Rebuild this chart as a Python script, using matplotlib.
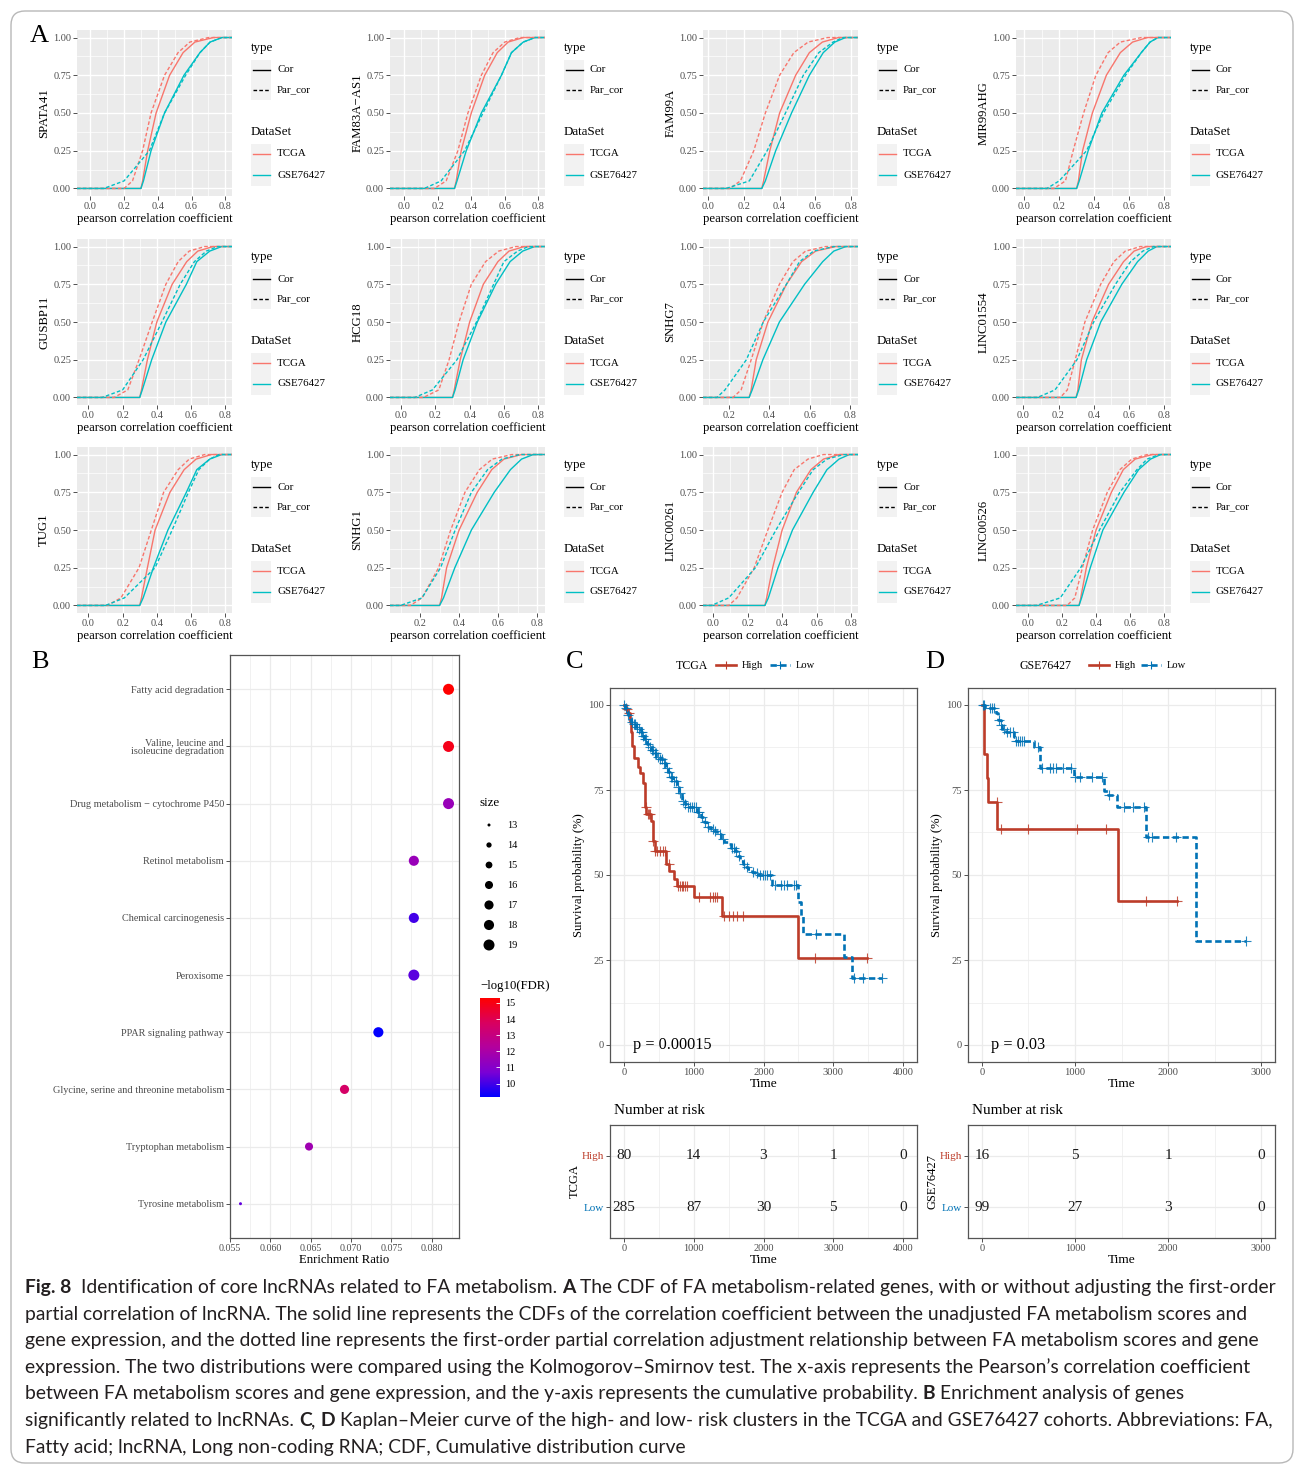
import numpy as np
import matplotlib
matplotlib.use("Agg")
import matplotlib.pyplot as plt
from matplotlib.colors import LinearSegmentedColormap, Normalize
from matplotlib.patches import FancyBboxPatch, Rectangle
from matplotlib.cm import ScalarMappable

W, H = 1295, 1466
SERIF = ["Liberation Serif", "DejaVu Serif"]
CAPFONT = ["Lato", "DejaVu Sans"]
plt.rcParams["font.family"] = SERIF

# ------------------------------------------------------------------ data A
cdf_prob = [0.0, 0.05, 0.25, 0.50, 0.75, 0.90, 0.97, 1.0]
genes = ["SPATA41", "FAM83A\u2212AS1", "FAM99A", "MIR99AHG",
         "GUSBP11", "HCG18", "SNHG7", "LINC01554",
         "TUG1", "SNHG1", "LINC00261", "LINC00526"]
x_left = [-0.079, -0.085, -0.03, -0.047, -0.067, -0.065, 0.071, -0.042,
          -0.067, 0.046, -0.059, -0.07]
x_right = 0.84
# x value reached at each cumulative probability in cdf_prob
tcga_cor = [
    [0.30, 0.31, 0.340, 0.390, 0.470, 0.550, 0.62, 0.730],
    [0.30, 0.31, 0.340, 0.400, 0.480, 0.555, 0.62, 0.710],
    [0.30, 0.31, 0.345, 0.400, 0.490, 0.567, 0.64, 0.730],
    [0.30, 0.31, 0.334, 0.390, 0.470, 0.550, 0.62, 0.705],
    [0.30, 0.31, 0.345, 0.400, 0.490, 0.575, 0.64, 0.730],
    [0.30, 0.31, 0.345, 0.400, 0.480, 0.565, 0.63, 0.720],
    [0.30, 0.31, 0.335, 0.393, 0.485, 0.560, 0.63, 0.730],
    [0.30, 0.31, 0.330, 0.390, 0.485, 0.570, 0.63, 0.700],
    [0.30, 0.31, 0.345, 0.390, 0.477, 0.560, 0.63, 0.720],
    [0.30, 0.31, 0.336, 0.400, 0.493, 0.567, 0.63, 0.720],
    [0.30, 0.31, 0.345, 0.400, 0.483, 0.567, 0.64, 0.730],
    [0.30, 0.31, 0.343, 0.400, 0.490, 0.560, 0.63, 0.730],
]
tcga_par = [
    [0.20, 0.25, 0.310, 0.360, 0.440, 0.520, 0.59, 0.700],
    [0.18, 0.25, 0.320, 0.380, 0.460, 0.530, 0.60, 0.690],
    [0.12, 0.18, 0.255, 0.320, 0.400, 0.480, 0.56, 0.670],
    [0.17, 0.236, 0.280, 0.340, 0.410, 0.480, 0.55, 0.670],
    [0.15, 0.23, 0.296, 0.373, 0.453, 0.525, 0.59, 0.680],
    [0.13, 0.22, 0.280, 0.338, 0.410, 0.493, 0.57, 0.670],
    [0.22, 0.26, 0.310, 0.370, 0.450, 0.517, 0.58, 0.680],
    [0.21, 0.25, 0.295, 0.350, 0.440, 0.515, 0.58, 0.665],
    [0.11, 0.19, 0.296, 0.368, 0.440, 0.525, 0.59, 0.680],
    [0.15, 0.21, 0.295, 0.357, 0.430, 0.504, 0.57, 0.670],
    [0.09, 0.138, 0.238, 0.317, 0.400, 0.470, 0.55, 0.640],
    [0.23, 0.275, 0.320, 0.380, 0.466, 0.540, 0.61, 0.700],
]
gse_cor = [
    [0.30, 0.315, 0.360, 0.440, 0.555, 0.650, 0.71, 0.780],
    [0.30, 0.315, 0.370, 0.460, 0.580, 0.640, 0.71, 0.780],
    [0.30, 0.320, 0.378, 0.467, 0.567, 0.645, 0.71, 0.770],
    [0.30, 0.315, 0.366, 0.444, 0.570, 0.670, 0.72, 0.765],
    [0.30, 0.315, 0.370, 0.453, 0.573, 0.634, 0.71, 0.780],
    [0.30, 0.315, 0.362, 0.445, 0.552, 0.636, 0.71, 0.780],
    [0.30, 0.315, 0.368, 0.450, 0.575, 0.665, 0.72, 0.780],
    [0.30, 0.315, 0.360, 0.440, 0.560, 0.650, 0.71, 0.760],
    [0.30, 0.320, 0.380, 0.465, 0.573, 0.634, 0.71, 0.780],
    [0.30, 0.320, 0.378, 0.463, 0.580, 0.663, 0.72, 0.780],
    [0.30, 0.320, 0.376, 0.460, 0.580, 0.660, 0.73, 0.790],
    [0.30, 0.315, 0.366, 0.440, 0.564, 0.650, 0.72, 0.780],
]
gse_par = [
    [0.08, 0.20, 0.350, 0.440, 0.565, 0.650, 0.71, 0.780],
    [0.12, 0.22, 0.360, 0.470, 0.580, 0.640, 0.71, 0.780],
    [0.10, 0.23, 0.330, 0.433, 0.533, 0.620, 0.70, 0.755],
    [0.13, 0.20, 0.357, 0.454, 0.580, 0.670, 0.72, 0.765],
    [0.08, 0.20, 0.320, 0.430, 0.537, 0.620, 0.69, 0.755],
    [0.08, 0.183, 0.326, 0.440, 0.540, 0.600, 0.68, 0.743],
    [0.14, 0.18, 0.286, 0.370, 0.485, 0.550, 0.62, 0.720],
    [0.08, 0.18, 0.305, 0.400, 0.524, 0.610, 0.68, 0.740],
    [0.10, 0.21, 0.390, 0.490, 0.585, 0.646, 0.71, 0.765],
    [0.10, 0.21, 0.305, 0.380, 0.463, 0.546, 0.62, 0.710],
    [-0.01, 0.09, 0.245, 0.364, 0.495, 0.580, 0.66, 0.757],
    [0.05, 0.19, 0.310, 0.420, 0.540, 0.640, 0.70, 0.770],
]

# ------------------------------------------------------------------ data B
kegg_terms = ["Fatty acid degradation", "Valine, leucine and\nisoleucine degradation",
              "Drug metabolism \u2212 cytochrome P450", "Retinol metabolism",
              "Chemical carcinogenesis", "Peroxisome", "PPAR signaling pathway",
              "Glycine, serine and threonine metabolism", "Tryptophan metabolism",
              "Tyrosine metabolism"]
kegg_ratio = [0.0821, 0.0821, 0.0821, 0.0778, 0.0778, 0.0778, 0.0734, 0.0692, 0.0648, 0.0563]
kegg_size = [19, 19, 19, 18, 18, 19, 18, 17, 16, 13]
kegg_logfdr = [15.3, 14.9, 11.5, 11.5, 10.0, 10.3, 9.2, 13.6, 11.7, 10.4]
size_levels = [13, 14, 15, 16, 17, 18, 19]
fdr_ticks = [10, 11, 12, 13, 14, 15]

# ------------------------------------------------------------------ data C / D
# (time, survival %) at each step
tcga_high = [(0, 100), (20, 98.7), (50, 97.5), (80, 95), (95, 92), (110, 88), (150, 84.3),
             (195, 81.8), (230, 80.1), (280, 77), (295, 72), (305, 70.0), (320, 68),
             (390, 66.0), (415, 60.1), (440, 57.1), (600, 53.2), (650, 51.2), (720, 48.7),
             (760, 46.9), (1000, 43.5), (1400, 38.0), (2490, 25.5)]
tcga_high_end = 3490
tcga_high_censor = [40, 70, 310, 340, 360, 380, 420, 450, 480, 520, 560, 590, 640, 770, 800,
                    830, 850, 880, 900, 1080, 1230, 1270, 1310, 1340, 1430, 1500, 1560, 1620,
                    1700, 2740, 3490]
tcga_low = [(0, 100), (20, 99), (40, 98), (60, 97), (80, 96), (100, 95), (130, 94.3),
            (170, 93.5), (210, 92.8), (245, 92), (270, 91), (290, 90), (330, 88.5),
            (360, 87.5), (390, 86.8), (430, 85.8), (465, 84.8), (510, 84), (560, 83),
            (600, 81.5), (630, 80.2), (660, 78.9), (700, 77.5), (755, 75.9), (790, 74),
            (830, 71.9), (870, 70.8), (900, 70.0), (1050, 68.5), (1100, 67), (1150, 65.5),
            (1195, 64.0), (1250, 63.5), (1290, 63), (1340, 62), (1390, 60.5), (1440, 59.8),
            (1490, 59), (1540, 58), (1585, 57), (1620, 55.5), (1660, 54), (1700, 53.3),
            (1730, 52.5), (1780, 51.8), (1830, 51), (1880, 50.5), (1925, 50), (2120, 47),
            (2490, 42), (2540, 38), (2560, 32.6), (3150, 26), (3270, 19.6)]
tcga_low_end = 3700
tcga_low_censor = [0, 30, 60, 110, 140, 160, 190, 220, 250, 260, 280, 300, 320, 340, 370, 400,
                   420, 440, 460, 490, 520, 540, 570, 590, 620, 640, 670, 690, 720, 740, 780,
                   810, 850, 880, 920, 950, 980, 1010, 1030, 1060, 1080, 1120, 1160, 1210,
                   1280, 1300, 1380, 1420, 1550, 1580, 1600, 1650, 1720, 1760, 1850, 1900,
                   1950, 1990, 2020, 2050, 2100, 2170, 2250, 2290, 2330, 2430, 2470, 2750,
                   3300, 3430, 3700]
gse_high = [(0, 100), (20, 85.7), (50, 78.6), (70, 71.4), (165, 63.5), (1460, 42.3)]
gse_high_end = 2100
gse_high_censor = [160, 200, 500, 1020, 1330, 1760, 2100]
gse_low = [(0, 100), (30, 99), (150, 97.5), (175, 95.5), (200, 94), (220, 93), (260, 92),
           (340, 90.5), (365, 89.3), (555, 87.6), (620, 81.6), (993, 78.9), (1314, 74.6),
           (1350, 73.5), (1450, 70), (1760, 61.3), (2300, 30.6)]
gse_low_end = 2840
gse_low_censor = [10, 20, 90, 110, 130, 180, 200, 240, 270, 300, 330, 370, 390, 410, 430, 450,
                  600, 650, 730, 760, 800, 870, 960, 1000, 1050, 1180, 1290, 1370, 1530, 1620,
                  1740, 1780, 1830, 2090, 2840]
tcga_risk_times = [0, 1000, 2000, 3000, 4000]
tcga_risk_high = [80, 14, 3, 1, 0]
tcga_risk_low = [285, 87, 30, 5, 0]
gse_risk_times = [0, 1000, 2000, 3000]
gse_risk_high = [16, 5, 1, 0]
gse_risk_low = [99, 27, 3, 0]

caption_lines = [
    [("Fig. 8", True), ("  Identification of core lncRNAs related to FA metabolism. ", False),
     ("A", True), (" The CDF of FA metabolism-related genes, with or without adjusting the first-order", False)],
    [("partial correlation of lncRNA. The solid line represents the CDFs of the correlation coefficient between the unadjusted FA metabolism scores and", False)],
    [("gene expression, and the dotted line represents the first-order partial correlation adjustment relationship between FA metabolism scores and gene", False)],
    [("expression. The two distributions were compared using the Kolmogorov\u2013Smirnov test. The x-axis represents the Pearson\u2019s correlation coefficient", False)],
    [("between FA metabolism scores and gene expression, and the y-axis represents the cumulative probability. ", False),
     ("B", True), (" Enrichment analysis of genes", False)],
    [("significantly related to lncRNAs. ", False), ("C", True), (", ", False), ("D", True),
     (" Kaplan\u2013Meier curve of the high- and low- risk clusters in the TCGA and GSE76427 cohorts. Abbreviations: FA,", False)],
    [("Fatty acid; lncRNA, Long non-coding RNA; CDF, Cumulative distribution curve", False)],
]

# ------------------------------------------------------------------ styles
TCGA_C = "#F8766D"
GSE_C = "#00BFC4"
HIGH_C = "#BC3C29"
LOW_C = "#0072B5"
DASH_A = (0, (2.6, 1.6))
DASH_KM = (0, (2.4, 1.3))

fig = plt.figure(figsize=(W / 100, H / 100), dpi=100)
fig.patch.set_facecolor("white")


def ax_px(x0, y0, x1, y1, **kw):
    return fig.add_axes([x0 / W, 1 - y1 / H, (x1 - x0) / W, (y1 - y0) / H], **kw)


ov = fig.add_axes([0, 0, 1, 1], zorder=20)
ov.set_xlim(0, W)
ov.set_ylim(H, 0)
ov.axis("off")
ov.patch.set_alpha(0)

# ------------------------------------------------------------------ panel A
col_x = [77, 390, 703, 1016]
row_y = [30, 239, 447]
PW, PH = 155, 166
for i, g in enumerate(genes):
    r, c = divmod(i, 4)
    x0, y0 = col_x[c], row_y[r]
    ax = ax_px(x0, y0, x0 + PW, y0 + PH)
    ax.set_facecolor("#EBEBEB")
    for s in ax.spines.values():
        s.set_visible(False)
    xl = x_left[i]
    ax.set_xlim(xl, x_right)
    ax.set_ylim(-0.05, 1.05)
    ax.set_xticks([t for t in [0.0, 0.2, 0.4, 0.6, 0.8] if t >= xl])
    ax.set_xticks([t for t in [-0.1, 0.1, 0.3, 0.5, 0.7] if t >= xl], minor=True)
    ax.set_yticks([0, 0.25, 0.5, 0.75, 1.0])
    ax.set_yticks([0.125, 0.375, 0.625, 0.875], minor=True)
    ax.set_yticklabels(["0.00", "0.25", "0.50", "0.75", "1.00"])
    ax.set_xticklabels(["%.1f" % t for t in ax.get_xticks()])
    ax.grid(which="major", color="white", lw=1.0)
    ax.grid(which="minor", color="white", lw=0.5)
    ax.set_axisbelow(True)
    ax.tick_params(which="major", labelsize=7.4, length=2.8, width=0.6, color="#333333",
                   labelcolor="#4D4D4D", pad=1.5)
    ax.tick_params(which="minor", length=0)
    for data, col, ls in [(tcga_cor, TCGA_C, "-"), (gse_cor, GSE_C, "-"),
                          (tcga_par, TCGA_C, DASH_A), (gse_par, GSE_C, DASH_A)]:
        xs = [xl] + list(data[i]) + [x_right]
        ys = [0.0] + list(cdf_prob) + [1.0]
        ax.plot(xs, ys, color=col, lw=1.0, ls=ls)
    ax.set_ylabel(g, fontsize=9.2, labelpad=2)
    ax.set_xlabel("pearson correlation coefficient", fontsize=9.2, labelpad=1.5)

    # legend
    lx = x0 + PW + 19
    ov.text(lx, y0 + 18, "type", fontsize=9.4, va="center", ha="left")
    for k, (lab, ls) in enumerate([("Cor", "-"), ("Par_cor", DASH_A)]):
        yc = y0 + 40 + 20 * k
        ov.add_patch(Rectangle((lx, yc - 10), 20, 20, fc="#F2F2F2", ec="none"))
        ov.plot([lx + 2, lx + 19], [yc, yc], color="black", lw=1.0, ls=ls)
        ov.text(lx + 26, yc, lab, fontsize=7.8, va="center", ha="left")
    ov.text(lx, y0 + 102, "DataSet", fontsize=9.4, va="center", ha="left")
    for k, (lab, col) in enumerate([("TCGA", TCGA_C), ("GSE76427", GSE_C)]):
        yc = y0 + 124 + 21 * k
        ov.add_patch(Rectangle((lx, yc - 10.5), 20, 21, fc="#F2F2F2", ec="none"))
        ov.plot([lx + 2, lx + 19], [yc, yc], color=col, lw=1.0)
        ov.text(lx + 26, yc, lab, fontsize=7.8, va="center", ha="left")

# ------------------------------------------------------------------ panel B
cmap = LinearSegmentedColormap.from_list(
    "bluered", ["#0000FF", "#7B00D4", "#B2009E", "#D9005F", "#FF0000"])
norm = Normalize(vmin=9.17, vmax=15.31)


def dot_s(v):
    d_px = np.sqrt(9 + (np.asarray(v, float) - 13) * 18.67)
    return (d_px * 0.72) ** 2


axb = ax_px(230, 655, 459, 1238)
idx = np.arange(len(kegg_terms))
axb.scatter(kegg_ratio, idx, s=dot_s(kegg_size), c=kegg_logfdr, cmap=cmap, norm=norm,
            edgecolors="none", zorder=3)
axb.set_ylim(len(kegg_terms) - 0.4, -0.6)
axb.set_xlim(0.0550, 0.0834)
axb.set_yticks(idx)
axb.set_yticklabels(kegg_terms, fontsize=7.4, color="#4D4D4D", linespacing=0.95)
xt = [0.055, 0.060, 0.065, 0.070, 0.075, 0.080]
axb.set_xticks(xt)
axb.set_xticklabels(["%.3f" % t for t in xt], fontsize=7.2, color="#4D4D4D")
axb.set_xticks([0.0575, 0.0625, 0.0675, 0.0725, 0.0775, 0.0825], minor=True)
axb.grid(which="major", color="#EBEBEB", lw=0.9)
axb.grid(which="minor", color="#EBEBEB", lw=0.5)
axb.set_axisbelow(True)
axb.tick_params(which="major", length=2.8, width=0.6, color="#333333", pad=1.5)
axb.tick_params(which="minor", length=0)
for s in axb.spines.values():
    s.set_color("#555555")
    s.set_linewidth(0.9)
axb.set_xlabel("Enrichment Ratio", fontsize=9.2, labelpad=1)

ov.text(480, 803, "size", fontsize=9.4, va="center", ha="left")
for k, v in enumerate(size_levels):
    yc = 825 + 20 * k
    ov.scatter([489], [yc], s=dot_s(v), color="black", edgecolors="none")
    ov.text(507, yc, str(v), fontsize=7.4, va="center", ha="left")
ov.text(480, 986, "\u2212log10(FDR)", fontsize=9.2, va="center", ha="left")
cax = ax_px(480, 998, 500, 1097)
cb = fig.colorbar(ScalarMappable(norm=norm, cmap=cmap), cax=cax)
cb.set_ticks(fdr_ticks)
cb.outline.set_visible(False)
cax.tick_params(labelsize=7.4, length=3, color="white", width=0.6, direction="in", pad=4)

# ------------------------------------------------------------------ panels C, D


def surv_at(pairs, t):
    s = pairs[0][1]
    for tt, ss in pairs:
        if tt <= t:
            s = ss
    return s


def km_panel(box, high, high_end, high_c, low, low_end, low_c, xlim, xticks, pval):
    ax = ax_px(*box)
    for pairs, end, cens, col, ls, z in [(high, high_end, high_c, HIGH_C, "-", 3),
                                          (low, low_end, low_c, LOW_C, DASH_KM, 4)]:
        ts = [p[0] for p in pairs] + [end]
        ss = [p[1] for p in pairs] + [pairs[-1][1]]
        ax.step(ts, ss, where="post", color=col, lw=1.9, ls=ls, zorder=z)
        ax.plot(cens, [surv_at(pairs, t) for t in cens], ls="none", marker="+",
                ms=6.5, mew=0.8, color=col, zorder=z, alpha=0.85)
    ax.set_xlim(*xlim)
    ax.set_ylim(-5, 105)
    ax.set_xticks(xticks)
    ax.set_xticks([t + 500 for t in xticks[:-1]], minor=True)
    ax.set_yticks([0, 25, 50, 75, 100])
    ax.set_yticks([12.5, 37.5, 62.5, 87.5], minor=True)
    ax.grid(which="major", color="#EBEBEB", lw=0.9)
    ax.grid(which="minor", color="#EBEBEB", lw=0.5)
    ax.set_axisbelow(True)
    ax.tick_params(which="major", labelsize=7.6, length=2.8, width=0.6, color="#333333",
                   labelcolor="#4D4D4D", pad=1.5)
    ax.tick_params(which="minor", length=0)
    for s in ax.spines.values():
        s.set_color("#555555")
        s.set_linewidth(0.9)
    ax.set_ylabel("Survival probability (%)", fontsize=9.1, labelpad=2)
    ax.set_xlabel("Time", fontsize=9.6, labelpad=1)
    ax.text(0.075, 0.046, pval, transform=ax.transAxes, fontsize=11.7, va="center", ha="left")
    return ax


km_panel((610, 688, 917, 1062), tcga_high, tcga_high_end, tcga_high_censor,
         tcga_low, tcga_low_end, tcga_low_censor, (-200, 4200),
         [0, 1000, 2000, 3000, 4000], "p = 0.00015")
km_panel((968, 688, 1275, 1062), gse_high, gse_high_end, gse_high_censor,
         gse_low, gse_low_end, gse_low_censor, (-150, 3150),
         [0, 1000, 2000, 3000], "p = 0.03")


def km_legend(xt, lab, xr, xb):
    ov.text(xt, 666, lab, fontsize=8.6, va="center", ha="center")
    ov.plot([xr, xr + 20], [665, 665], color=HIGH_C, lw=1.9)
    ov.plot([xr + 10], [665], marker="+", ms=6, mew=0.8, color=HIGH_C)
    ov.text(xr + 26, 666, "High", fontsize=7.6, va="center", ha="left")
    ov.plot([xb, xb + 20], [665, 665], color=LOW_C, lw=1.9, ls=DASH_KM)
    ov.plot([xb + 10], [665], marker="+", ms=6, mew=0.8, color=LOW_C)
    ov.text(xb + 26, 666, "Low", fontsize=7.6, va="center", ha="left")


km_legend(692, "TCGA", 716, 770)
km_legend(1045, "GSE76427", 1089, 1141)


def risk_table(box, times, high, low, xlim, xticks, ylab, title_x):
    ax = ax_px(*box)
    ax.set_xlim(*xlim)
    ax.set_ylim(-0.6, 1.6)
    for t, n in zip(times, high):
        ax.text(t, 1, str(n), fontsize=11, ha="center", va="center", color="#1A1A1A")
    for t, n in zip(times, low):
        ax.text(t, 0, str(n), fontsize=11, ha="center", va="center", color="#1A1A1A")
    ax.set_xticks(xticks)
    ax.set_xticks([t + 500 for t in xticks[:-1]], minor=True)
    ax.set_yticks([1, 0])
    ax.set_yticklabels(["High", "Low"])
    ax.get_yticklabels()[0].set_color(HIGH_C)
    ax.get_yticklabels()[1].set_color(LOW_C)
    ax.grid(which="major", color="#EBEBEB", lw=0.9)
    ax.grid(which="minor", axis="x", color="#EBEBEB", lw=0.5)
    ax.set_axisbelow(True)
    ax.tick_params(which="major", labelsize=7.4, length=2.8, width=0.6, color="#333333",
                   pad=1.5)
    ax.tick_params(axis="x", labelcolor="#4D4D4D")
    ax.tick_params(axis="y", labelsize=8)
    ax.tick_params(which="minor", length=0)
    for s in ax.spines.values():
        s.set_color("#555555")
        s.set_linewidth(0.9)
    ax.set_xlabel("Time", fontsize=9.6, labelpad=1)
    ax.set_ylabel(ylab, fontsize=9, labelpad=1)
    ov.text(title_x, 1110, "Number at risk", fontsize=10.9, va="center", ha="left")


risk_table((610, 1125, 917, 1238), tcga_risk_times, tcga_risk_high, tcga_risk_low,
           (-200, 4200), [0, 1000, 2000, 3000, 4000], "TCGA", 614)
risk_table((968, 1125, 1275, 1238), gse_risk_times, gse_risk_high, gse_risk_low,
           (-150, 3150), [0, 1000, 2000, 3000], "GSE76427", 972)

# panel letters
for lab, x, y in [("A", 30, 36), ("B", 31, 662), ("C", 566, 662), ("D", 925, 662)]:
    ov.text(x, y, lab, fontsize=19, va="center", ha="left")

# ------------------------------------------------------------------ caption
renderer = fig.canvas.get_renderer()


def text_w(s, bold, size):
    t = fig.text(0, 0, s, fontsize=size, family=CAPFONT,
                 fontweight="bold" if bold else "normal")
    w = t.get_window_extent(renderer).width
    t.remove()
    return w


def line_w(runs, size):
    sw = text_w("a a", False, size) - text_w("aa", False, size)
    tot = 0
    for txt, b in runs:
        st = txt.strip()
        nl = len(txt) - len(txt.lstrip())
        nt = len(txt) - len(txt.rstrip())
        tot += (nl + nt) * sw + text_w(st, b, size)
    return tot, sw


w10, _ = line_w(caption_lines[0], 10)
cap_size = 10 * 1248 / w10
w2, _ = line_w(caption_lines[0], cap_size)
cap_size = cap_size * 1248 / w2
for li, runs in enumerate(caption_lines):
    _, sw = line_w(runs, cap_size)
    x = 25
    yb = 1293 + 26.6 * li
    for txt, b in runs:
        st = txt.strip()
        nl = len(txt) - len(txt.lstrip())
        nt = len(txt) - len(txt.rstrip())
        x += nl * sw
        ov.text(x, yb, st, fontsize=cap_size, family=CAPFONT,
                fontweight="bold" if b else "normal", va="baseline", ha="left",
                color="#231F20")
        x += text_w(st, b, cap_size) + nt * sw

# frame
fig.patches.append(FancyBboxPatch((11, 3), 1282, 1452, boxstyle="round,pad=0,rounding_size=14",
                                  transform=None, fc="none", ec="#B8B8B8", lw=1.0))

fig.savefig("out.png", dpi=100)
